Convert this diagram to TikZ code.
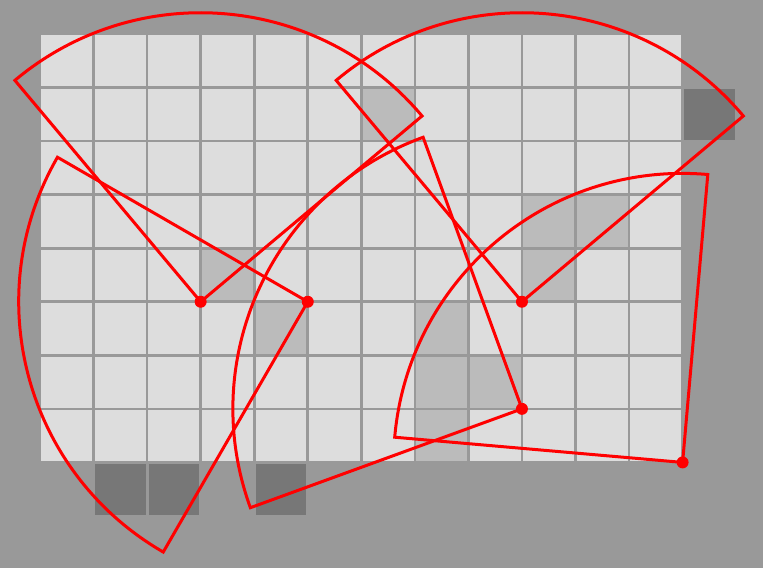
\documentclass[tikz,border=0pt]{standalone}
\definecolor{bgc}{HTML}{999999}
\definecolor{lightc}{HTML}{DDDDDD}
\definecolor{midc}{HTML}{BBBBBB}
\definecolor{darkc}{HTML}{777777}
\begin{document}
\begin{tikzpicture}[x=1pt,y=1pt,
  sector/.style={draw=red,line width=3pt,line join=miter},
  dot/.style={fill=red},
  gridline/.style={draw=bgc,line width=2.7pt}]
\def\s{53.55}
\fill[bgc] (0,0) rectangle (763,-568);
\useasboundingbox (0,0) rectangle (763,-568);
% light grid area
\fill[lightc] (40,-34) rectangle ({40+12*\s},{-34-8*\s});
% medium cells
\foreach \i/\j in {6/1,3/4,4/5,9/3,10/3,9/4,7/5,7/6,8/6,7/7}
  \fill[midc] ({40+\i*\s},{-34-\j*\s}) rectangle ({40+(\i+1)*\s},{-34-(\j+1)*\s});
% grid lines
\foreach \k in {0,...,12}
  \draw[gridline] ({40+\k*\s},-34) -- ({40+\k*\s},{-34-8*\s});
\foreach \k in {0,...,8}
  \draw[gridline] (40,{-34-\k*\s}) -- ({40+12*\s},{-34-\k*\s});
% dark cells outside
\foreach \i/\j in {12/1,1/8,2/8,4/8}
  \fill[darkc] ({40+\i*\s+1.4},{-34-\j*\s-1.4}) rectangle ({40+(\i+1)*\s-1.4},{-34-(\j+1)*\s+1.4});
% centers
\coordinate (c1) at ({40+3*\s},{-34-5*\s});
\coordinate (c2) at ({40+5*\s},{-34-5*\s});
\coordinate (c3) at ({40+9*\s},{-34-5*\s});
\coordinate (c4) at ({40+9*\s},{-34-7*\s});
\coordinate (c5) at ({40+12*\s},{-34-8*\s});
\def\R{289}
\draw[sector] (c1) -- ++(40:\R) arc[start angle=40,end angle=130,radius=\R] -- cycle;
\draw[sector] (c2) -- ++(150:\R) arc[start angle=150,end angle=240,radius=\R] -- cycle;
\draw[sector] (c3) -- ++(40:\R) arc[start angle=40,end angle=130,radius=\R] -- cycle;
\draw[sector] (c4) -- ++(110:\R) arc[start angle=110,end angle=200,radius=\R] -- cycle;
\draw[sector] (c5) -- ++(85:\R) arc[start angle=85,end angle=175,radius=\R] -- cycle;
\foreach \c in {c1,c2,c3,c4,c5}
  \fill[dot] (\c) circle (6);
\end{tikzpicture}
\end{document}
